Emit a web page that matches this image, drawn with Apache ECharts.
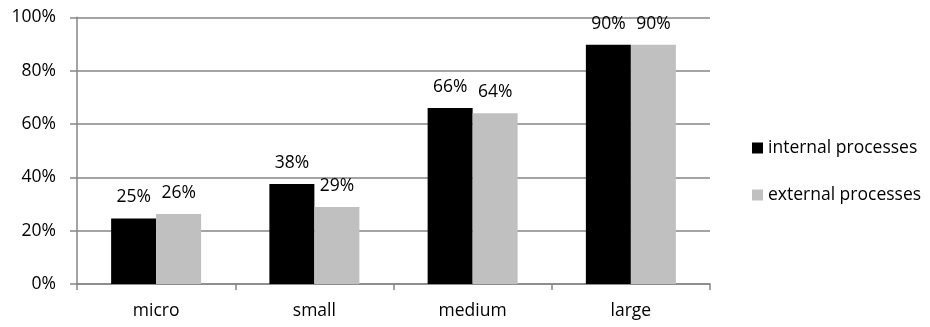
<!DOCTYPE html>
<html>
<head>
<meta charset="utf-8">
<script src="https://cdn.jsdelivr.net/npm/echarts@6/dist/echarts.min.js"></script>
<style>html,body{margin:0;padding:0;background:#fff;}#c{width:930px;height:327px;}</style>
</head>
<body>
<div id="c"></div>
<script>
var categories = ['micro', 'small', 'medium', 'large'];
var internalValues = [24.6, 37.5, 66, 89.7];
var externalValues = [26.2, 28.9, 64, 89.7];
var seriesNames = ['internal processes', 'external processes'];
var yTicks = [0, 20, 40, 60, 80, 100];

var FONT = 'Open Sans';
var FS = 17.5;
var chart = echarts.init(document.getElementById('c'), null, {renderer: 'canvas'});
var labelCfg = {
  show: true, position: 'top', distance: 12,
  color: '#000', fontFamily: FONT, fontSize: FS,
  formatter: function (p) { return Math.round(p.value) + '%'; }
};
chart.setOption({
  animation: false,
  backgroundColor: '#fff',
  grid: {left: 77, right: 220, top: 17.3, bottom: 43, containLabel: false},
  legend: {
    orient: 'vertical', left: 747, top: 133, itemWidth: 11, itemHeight: 11,
    itemGap: 27, icon: 'rect',
    textStyle: {fontFamily: FONT, fontSize: FS, color: '#000', lineHeight: 20},
    data: seriesNames
  },
  xAxis: {
    type: 'category', data: categories, boundaryGap: true,
    axisLine: {lineStyle: {color: '#868686', width: 1.5}},
    axisTick: {show: true, length: 6, alignWithLabel: false, lineStyle: {color: '#868686', width: 1.5}},
    axisLabel: {margin: 18, color: '#000', fontFamily: FONT, fontSize: FS}
  },
  yAxis: {
    type: 'value', min: yTicks[0], max: yTicks[yTicks.length - 1], interval: 20,
    axisLine: {show: true, lineStyle: {color: '#868686', width: 1.5}},
    axisTick: {show: true, length: 7, lineStyle: {color: '#868686', width: 1.5}},
    splitLine: {show: true, lineStyle: {color: '#868686', width: 1.5}},
    axisLabel: {margin: 21, color: '#000', fontFamily: FONT, fontSize: FS, formatter: '{value}%'}
  },
  series: [
    {name: seriesNames[0], type: 'bar', data: internalValues, barWidth: 45, barGap: '0%',
     itemStyle: {color: '#000000'}, label: labelCfg},
    {name: seriesNames[1], type: 'bar', data: externalValues, barWidth: 45, barGap: '0%',
     itemStyle: {color: '#C0C0C0'}, label: labelCfg}
  ]
});
</script>
</body>
</html>
